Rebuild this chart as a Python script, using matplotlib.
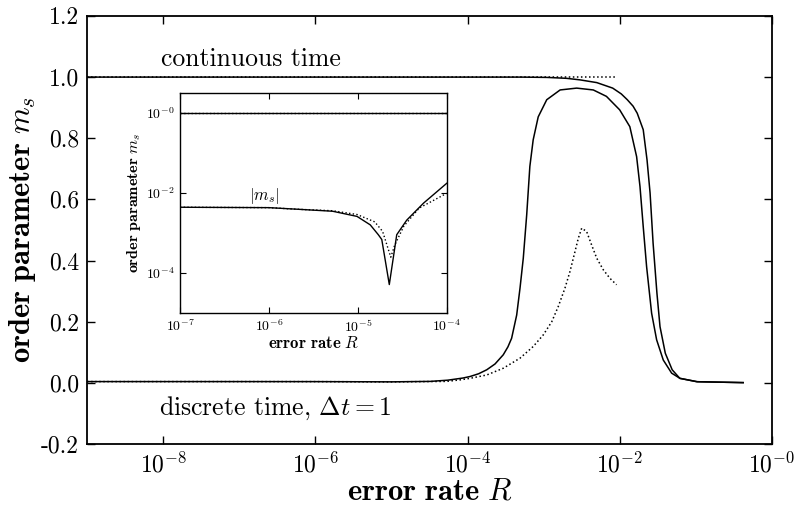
import matplotlib
matplotlib.use("Agg")
import matplotlib.pyplot as plt
from matplotlib.ticker import FixedLocator, FixedFormatter, NullLocator

plt.rcParams["font.family"] = "serif"
plt.rcParams["font.serif"] = ["cmr10"]
plt.rcParams["mathtext.fontset"] = "cm"
plt.rcParams["axes.formatter.use_mathtext"] = True
plt.rcParams["axes.unicode_minus"] = False

# --- main panel data ---
# continuous time, solid
R_cont = [1e-9, 1e-7, 1e-5, 1e-4, 5e-4, 1.1e-3, 2.0e-3, 3.0e-3, 5.0e-3, 8.1e-3,
          1.05e-2, 1.26e-2, 1.5e-2, 1.7e-2, 2.04e-2, 2.29e-2, 2.51e-2, 2.75e-2,
          3.09e-2, 3.39e-2, 3.98e-2, 4.9e-2, 6.17e-2, 0.105, 0.42]
m_cont = [1.0, 1.0, 1.0, 1.0, 1.0, 0.999, 0.996, 0.991, 0.982, 0.964,
          0.945, 0.926, 0.905, 0.882, 0.828, 0.729, 0.621, 0.457,
          0.293, 0.184, 0.097, 0.043, 0.015, 0.004, 0.001]

# continuous time, dotted
R_cont_dot = [1e-9, 1e-6, 1e-4, 9.3e-3]
m_cont_dot = [1.0, 1.0, 1.0, 1.0]

# discrete time, solid
R_disc = [1e-9, 1e-7, 1e-6, 1e-5, 3.24e-5, 5.5e-5, 8.7e-5, 1.08e-4, 1.4e-4,
          1.79e-4, 2.3e-4, 2.95e-4, 3.4e-4, 3.8e-4, 4.43e-4, 4.9e-4, 5.41e-4,
          6.0e-4, 6.6e-4, 7.3e-4, 8.5e-4, 1.1e-3, 1.65e-3, 2.72e-3, 4.5e-3,
          6.7e-3, 1.0e-2, 1.36e-2, 1.67e-2, 1.85e-2, 2.04e-2, 2.26e-2,
          2.63e-2, 3.06e-2, 3.74e-2, 4.82e-2, 6.2e-2, 0.103, 0.42]
m_disc = [0.0044, 0.0044, 0.0043, 0.0035, 0.005, 0.009, 0.016, 0.021, 0.03,
          0.043, 0.062, 0.092, 0.118, 0.146, 0.222, 0.31, 0.408,
          0.55, 0.708, 0.795, 0.87, 0.926, 0.958, 0.964, 0.958,
          0.937, 0.893, 0.838, 0.74, 0.642, 0.511, 0.38,
          0.228, 0.141, 0.075, 0.032, 0.015, 0.004, 0.001]

# discrete time, dotted
R_disc_dot = [1e-9, 1e-7, 1e-6, 1e-5, 5.3e-5, 8e-5, 1.08e-4, 1.79e-4, 2.95e-4,
              4.9e-4, 7.3e-4, 9.9e-4, 1.28e-3, 1.56e-3, 1.91e-3, 2.22e-3,
              2.59e-3, 2.86e-3, 3.17e-3, 3.68e-3, 4.28e-3, 4.99e-3, 6.09e-3,
              7.45e-3, 9.1e-3]
m_disc_dot = [0.0044, 0.0044, 0.0043, 0.0035, 0.005, 0.01, 0.015, 0.026, 0.048,
              0.081, 0.119, 0.157, 0.20, 0.25, 0.31, 0.364,
              0.43, 0.473, 0.506, 0.495, 0.451, 0.408, 0.37,
              0.342, 0.321]

main_yticks = [-0.2, 0.0, 0.2, 0.4, 0.6, 0.8, 1.0, 1.2]
main_ylabels = ["-0.2", "0.0", "0.2", "0.4", "0.6", "0.8", "1.0", "1.2"]
main_xticks = [1e-8, 1e-6, 1e-4, 1e-2, 1e0]
main_xlabels = [r"$10^{-8}$", r"$10^{-6}$", r"$10^{-4}$", r"$10^{-2}$", r"$10^{-0}$"]

# --- inset data: |m_s| on log scale ---
Ri_top = [1e-7, 1e-6, 1e-5, 1e-4]
mi_top = [1.0, 1.0, 1.0, 1.0]

Ri_solid = [1e-7, 1e-6, 2.2e-6, 5.2e-6, 9.8e-6, 1.38e-5, 1.7e-5, 1.86e-5,
            2.26e-5, 2.74e-5, 3.55e-5, 5.5e-5, 1e-4]
mi_solid = [4.4e-3, 4.3e-3, 3.9e-3, 3.5e-3, 2.6e-3, 1.6e-3, 9.1e-4, 6.9e-4,
            5.2e-5, 9.1e-4, 2.1e-3, 5.6e-3, 1.74e-2]

Ri_dot = [1e-7, 1e-6, 2.2e-6, 5.2e-6, 9.8e-6, 1.55e-5, 1.9e-5, 2.35e-5,
          2.6e-5, 3.3e-5, 4.9e-5, 1e-4]
mi_dot = [4.4e-3, 4.3e-3, 3.9e-3, 3.6e-3, 2.9e-3, 1.9e-3, 1.1e-3, 2.5e-4,
          5.0e-4, 1.5e-3, 4.2e-3, 9.8e-3]

inset_xticks = [1e-7, 1e-6, 1e-5, 1e-4]
inset_xlabels = [r"$10^{-7}$", r"$10^{-6}$", r"$10^{-5}$", r"$10^{-4}$"]
inset_yticks = [1e-4, 1e-2, 1e0]
inset_ylabels = [r"$10^{-4}$", r"$10^{-2}$", r"$10^{-0}$"]

fig = plt.figure(figsize=(7.99, 5.14), dpi=100)
ax = fig.add_axes([0.109, 0.136, 0.857, 0.833])

lw = 1.1
ax.plot(R_cont, m_cont, "k-", lw=lw)
ax.plot(R_cont_dot, m_cont_dot, "k:", lw=lw)
ax.plot(R_disc, m_disc, "k-", lw=lw)
ax.plot(R_disc_dot, m_disc_dot, "k:", lw=lw)

ax.set_xscale("log")
ax.set_xlim(1e-9, 1e0)
ax.set_ylim(-0.2, 1.2)
ax.xaxis.set_major_locator(FixedLocator(main_xticks))
ax.xaxis.set_major_formatter(FixedFormatter(main_xlabels))
ax.xaxis.set_minor_locator(NullLocator())
ax.yaxis.set_major_locator(FixedLocator(main_yticks))
ax.yaxis.set_major_formatter(FixedFormatter(main_ylabels))
ax.tick_params(direction="in", length=6, width=1, top=True, right=True,
               labelsize=17, pad=6)
for s in ax.spines.values():
    s.set_linewidth(1.3)

ax.set_xlabel(r"$\mathbf{error\ rate}\ R$", fontsize=22, labelpad=0)
ax.set_ylabel(r"$\mathbf{order\ parameter}\ m_s$", fontsize=22, labelpad=2)

ax.text(9.3e-9, 1.035, "continuous time", fontsize=18.5)
ax.text(8.8e-9, -0.105, r"discrete time, $\Delta t = 1$", fontsize=18.5)

# inset
axi = fig.add_axes([0.2253, 0.3905, 0.3338, 0.428])
axi.plot(Ri_top, mi_top, "k-", lw=1.0)
axi.plot(Ri_top, mi_top, "k:", lw=1.0)
axi.plot(Ri_solid, mi_solid, "k-", lw=1.0)
axi.plot(Ri_dot, mi_dot, "k:", lw=1.0)
axi.set_xscale("log")
axi.set_yscale("log")
axi.set_xlim(1e-7, 1e-4)
axi.set_ylim(1e-5, 3.05)
axi.xaxis.set_major_locator(FixedLocator(inset_xticks))
axi.xaxis.set_major_formatter(FixedFormatter(inset_xlabels))
axi.xaxis.set_minor_locator(NullLocator())
axi.yaxis.set_major_locator(FixedLocator(inset_yticks))
axi.yaxis.set_major_formatter(FixedFormatter(inset_ylabels))
axi.yaxis.set_minor_locator(NullLocator())
axi.tick_params(direction="in", length=4, width=0.8, top=True, right=True,
                labelsize=10, pad=4)
for s in axi.spines.values():
    s.set_linewidth(1.0)
axi.set_xlabel(r"$\mathbf{error\ rate}\ R$", fontsize=12, labelpad=0)
axi.set_ylabel(r"$\mathbf{order\ parameter}\ m_s$", fontsize=11.5, labelpad=2)
axi.text(6.0e-7, 4.6e-3, r"$|m_s|$", fontsize=12, va="bottom")

fig.savefig("out.png", dpi=100)
